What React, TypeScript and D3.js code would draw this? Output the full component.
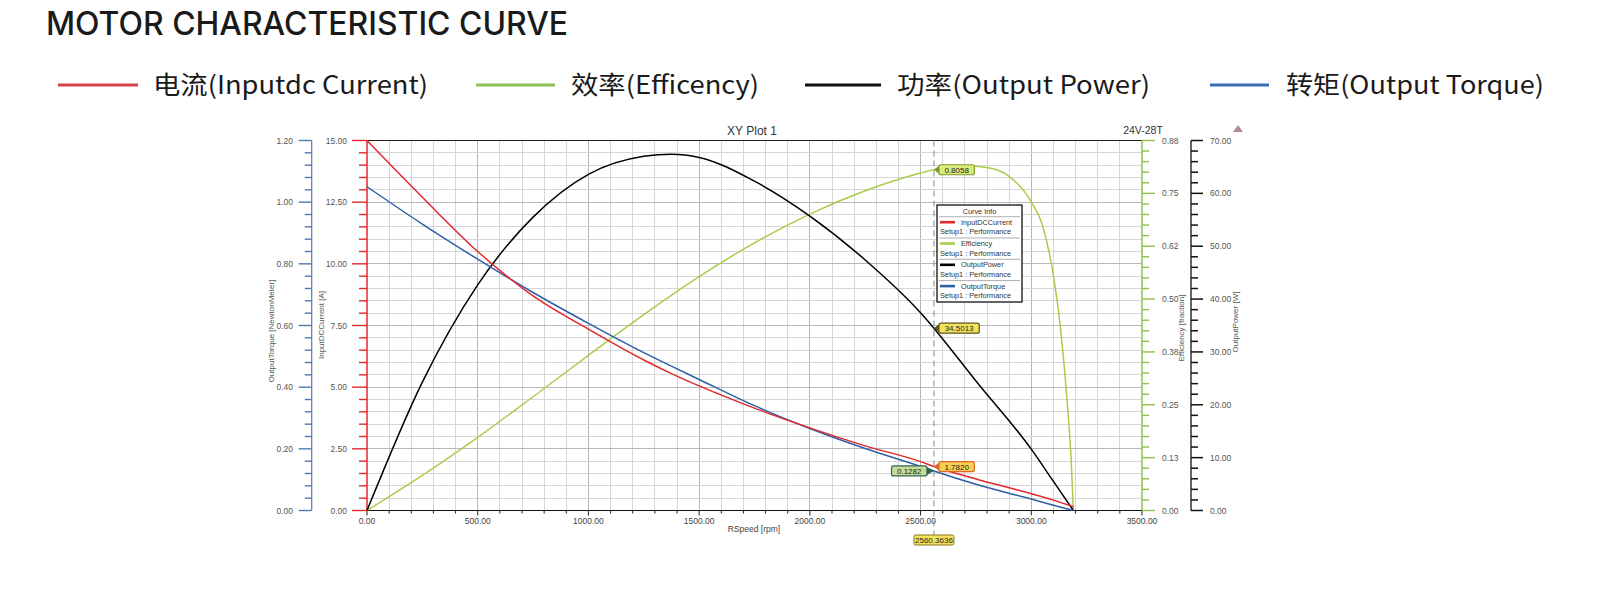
import * as d3 from "d3";

// motor curve, rpm on x
const SPEED = [0, 250, 500, 750, 1000, 1250, 1375, 1500, 1750, 2000, 2250, 2500, 2560, 2750, 3000, 3100, 3190];
const CURRENT = [15.0, 12.7, 10.5, 8.7, 7.35, 6.1, 5.55, 5.05, 4.15, 3.35, 2.62, 1.98, 1.782, 1.28, 0.68, 0.42, 0.15];
const TORQUE = [1.05, 0.929, 0.815, 0.707, 0.607, 0.512, 0.468, 0.425, 0.34, 0.266, 0.201, 0.143, 0.1282, 0.085, 0.037, 0.017, 0];
const POWER = [0, 24.3, 42.7, 55.5, 63.6, 67.0, 67.4, 66.8, 62.3, 55.7, 47.4, 37.4, 34.5, 24.5, 11.6, 5.5, 0];
const EFF_SPEED = [0, 250, 500, 750, 1000, 1250, 1500, 1750, 2000, 2250, 2500, 2560, 2700, 2800, 2900, 3000, 3050, 3100, 3130, 3160, 3180, 3190];
const EFFICIENCY = [0, 0.083, 0.173, 0.269, 0.367, 0.463, 0.553, 0.633, 0.701, 0.756, 0.798, 0.8058, 0.815, 0.811, 0.79, 0.73, 0.675, 0.555, 0.44, 0.27, 0.12, 0];

const EFF_TICK_LABELS = ["0.00", "0.13", "0.25", "0.38", "0.50", "0.62", "0.75", "0.88"];
const LEGEND_LABELS = ["电流(Inputdc Current)", "效率(Efficency)", "功率(Output Power)", "转矩(Output Torque)"];
const CURVE_NAMES = ["InputDCCurrent", "Efficiency", "OutputPower", "OutputTorque"];

const MARK_SPEED = 2560.3636;
const MARK_TEXT = ["1.7820", "0.8058", "34.5013", "0.1282", "2560.3636"];

const RED = "#e0282e";
const GREEN = "#a9cd4a";
const BLACK = "#000";
const BLUE = "#2f5fa6";
const SMALL = "'Liberation Sans', Arial, sans-serif";
const CJK = "'Noto Sans CJK SC', 'Noto Sans', sans-serif";

function Tag({ px, py, text, left, fill, stroke, color = "#222" }: any) {
  const w = text.length * 4.9 + 6;
  const h = 10;
  const bx = left ? px - 7 - w : px + 5;
  const tip = left
    ? `M${px},${py} L${px - 7},${py - 4} L${px - 7},${py + 4} Z`
    : `M${px},${py} L${px + 5},${py - 4} L${px + 5},${py + 4} Z`;
  return (
    <g>
      <path d={tip} fill={stroke} />
      <rect x={bx} y={py - h / 2} width={w} height={h} rx={2} fill={fill} stroke={stroke} strokeWidth={1.2} />
      <text x={bx + w / 2} y={py + 3} textAnchor="middle" fontSize={8} fontFamily={SMALL} fill={color}>
        {text}
      </text>
    </g>
  );
}

export default function App() {
  const L = 367, R = 1142, T = 140.5, B = 510.5;
  const x = d3.scaleLinear().domain([0, 3500]).range([L, R]);
  const yCur = d3.scaleLinear().domain([0, 15]).range([B, T]);
  const yTor = d3.scaleLinear().domain([0, 1.2]).range([B, T]);
  const yEff = d3.scaleLinear().domain([0, 0.875]).range([B, T]);
  const yPow = d3.scaleLinear().domain([0, 70]).range([B, T]);

  const path = (vals: number[], sc: d3.ScaleLinear<number, number>, xs = SPEED) =>
    d3
      .line<number>()
      .x((_, i) => x(xs[i]))
      .y((d) => sc(d))
      .curve(d3.curveMonotoneX)(vals) ?? "";

  const fmt = d3.format(".2f");
  const mx = x(MARK_SPEED);

  const legendX = [
    [58, 138, 153, 275],
    [476, 555, 571, 188],
    [805, 881, 897, 253],
    [1210, 1269, 1286, 258],
  ];
  const legendColors = ["#d4424a", "#8fc256", "#111", "#3c6db5"];
  const curveColors = [RED, GREEN, BLACK, BLUE];

  return (
    <svg
      width={1598}
      height={590}
      style={{ position: "absolute", left: 0, top: 0, background: "#fff" }}
    >
      <text x={46} y={35} fontSize={32} fontWeight={500} fontFamily="Inter, 'Noto Sans', sans-serif" fill="#1a1a1a" textLength={522} lengthAdjust="spacingAndGlyphs">
        MOTOR CHARACTERISTIC CURVE
      </text>

      {LEGEND_LABELS.map((lab, i) => {
        const [a, b, tx, tw] = legendX[i];
        return (
          <g key={lab}>
            <line x1={a} x2={b} y1={85} y2={85} stroke={legendColors[i]} strokeWidth={3} />
            <text x={tx} y={94} fontSize={25} fontFamily={CJK} fill="#1a1a1a" textLength={tw} lengthAdjust="spacingAndGlyphs">
              {lab}
            </text>
          </g>
        );
      })}

      {/* grid */}
      <g shapeRendering="crispEdges">
        {d3.range(1, 35).map((i) => (
          <line key={"v" + i} x1={x(i * 100)} x2={x(i * 100)} y1={T} y2={B} stroke={i % 5 === 0 ? "#b8b8b8" : "#d6d6d6"} />
        ))}
        {d3.range(1, 30).map((i) => (
          <line key={"h" + i} x1={L} x2={R} y1={yCur(i * 0.5)} y2={yCur(i * 0.5)} stroke={i % 5 === 0 ? "#b8b8b8" : "#d6d6d6"} />
        ))}
        <line x1={L} x2={R} y1={T} y2={T} stroke="#222" strokeWidth={1.5} />
        <line x1={L} x2={R} y1={B} y2={B} stroke="#111" strokeWidth={1.5} />
      </g>

      <text x={752} y={135} textAnchor="middle" fontSize={12} fontFamily={SMALL} fill="#333">XY Plot 1</text>
      <text x={1143} y={134} textAnchor="middle" fontSize={10.5} fontFamily={SMALL} fill="#333">24V-28T</text>
      <path d="M1238,125 L1243,132 L1233,132 Z" fill="#b48a92" />

      {/* x axis */}
      <g fontFamily={SMALL} fontSize={8.5} fill="#444">
        {d3.range(0, 36).map((i) => (
          <line key={"xt" + i} x1={x(i * 100)} x2={x(i * 100)} y1={B} y2={B + (i % 5 === 0 ? 5 : 3)} stroke="#222" />
        ))}
        {d3.range(0, 8).map((i) => (
          <text key={"xl" + i} x={x(i * 500)} y={524} textAnchor="middle">{fmt(i * 500)}</text>
        ))}
        <text x={754} y={532} textAnchor="middle">RSpeed [rpm]</text>
      </g>

      {/* torque axis (far left) */}
      <g fontFamily={SMALL} fontSize={8.5} fill="#555">
        <line x1={311.7} x2={311.7} y1={T} y2={B} stroke="#5179ad" strokeWidth={1.2} />
        {d3.range(0, 31).map((i) => (
          <line key={"tt" + i} x1={311.7 - (i % 5 === 0 ? 13 : 7)} x2={311.7} y1={yTor(i * 0.04)} y2={yTor(i * 0.04)} stroke="#5179ad" strokeWidth={1.4} />
        ))}
        {d3.range(0, 7).map((i) => (
          <text key={"tl" + i} x={293} y={yTor(i * 0.2) + 3} textAnchor="end">{fmt(i * 0.2)}</text>
        ))}
        <text transform="translate(274,331) rotate(-90)" textAnchor="middle" fontSize={8}>OutputTorque [NewtonMeter]</text>
      </g>

      {/* current axis */}
      <g fontFamily={SMALL} fontSize={8.5} fill="#555">
        {d3.range(0, 31).map((i) => (
          <line key={"ct" + i} x1={L - (i % 5 === 0 ? 15 : 8)} x2={L} y1={yCur(i * 0.5)} y2={yCur(i * 0.5)} stroke={RED} strokeWidth={1.4} />
        ))}
        <line x1={L} x2={L} y1={T} y2={B} stroke={RED} strokeWidth={1.5} />
        {d3.range(0, 7).map((i) => (
          <text key={"cl" + i} x={347} y={yCur(i * 2.5) + 3} textAnchor="end">{fmt(i * 2.5)}</text>
        ))}
        <text transform="translate(324,325) rotate(-90)" textAnchor="middle" fontSize={8}>InputDCCurrent [A]</text>
      </g>

      {/* efficiency axis */}
      <g fontFamily={SMALL} fontSize={8.5} fill="#555">
        {d3.range(0, 36).map((i) => (
          <line key={"et" + i} x1={R} x2={R + (i % 5 === 0 ? 13 : 7)} y1={yEff(i * 0.025)} y2={yEff(i * 0.025)} stroke="#8fbf4e" strokeWidth={1.4} />
        ))}
        <line x1={R} x2={R} y1={T} y2={B} stroke="#8fbf4e" strokeWidth={1.5} />
        {EFF_TICK_LABELS.map((lab, i) => (
          <text key={"el" + i} x={1162} y={yEff(i * 0.125) + 3}>{lab}</text>
        ))}
        <text transform="translate(1184,328) rotate(-90)" textAnchor="middle" fontSize={8}>Efficiency [fraction]</text>
      </g>

      {/* power axis */}
      <g fontFamily={SMALL} fontSize={8.5} fill="#555">
        <line x1={1191} x2={1191} y1={T} y2={B} stroke="#111" strokeWidth={1.3} />
        {d3.range(0, 36).map((i) => (
          <line key={"pt" + i} x1={1191} x2={1191 + (i % 5 === 0 ? 12 : 7)} y1={yPow(i * 2)} y2={yPow(i * 2)} stroke="#111" strokeWidth={1.5} />
        ))}
        {d3.range(0, 8).map((i) => (
          <text key={"pl" + i} x={1210} y={yPow(i * 10) + 3}>{fmt(i * 10)}</text>
        ))}
        <text transform="translate(1238,322) rotate(-90)" textAnchor="middle" fontSize={8}>OutputPower [W]</text>
      </g>

      {/* curves */}
      <g fill="none" strokeWidth={1.5}>
        <path d={path(EFFICIENCY, yEff, EFF_SPEED)} stroke={GREEN} />
        <path d={path(POWER, yPow)} stroke={BLACK} />
        <path d={path(TORQUE, yTor)} stroke={BLUE} />
        <path d={path(CURRENT, yCur)} stroke={RED} />
      </g>

      {/* marker */}
      <line x1={mx} x2={mx} y1={T} y2={536} stroke="#888" strokeDasharray="6,4" />

      {/* curve info */}
      <g fontFamily={SMALL} fontSize={7.3} fill="#333">
        <rect x={937} y={205} width={85} height={97} fill="#fff" stroke="#111" strokeWidth={1.3} />
        <text x={979.5} y={214} textAnchor="middle">Curve Info</text>
        {CURVE_NAMES.map((name, i) => {
          const top = 216.7 + i * 21.3;
          return (
            <g key={name}>
              <line x1={939} x2={1020} y1={top} y2={top} stroke="#999" strokeWidth={0.8} />
              <line x1={940} x2={955} y1={top + 5.5} y2={top + 5.5} stroke={curveColors[i]} strokeWidth={2.6} />
              <text x={961} y={top + 8}>{name}</text>
              <text x={940} y={top + 17.5}>Setup1 : Performance</text>
            </g>
          );
        })}
      </g>

      <Tag px={mx} py={yEff(0.8058)} text={MARK_TEXT[1]} fill="#dcec7c" stroke="#7d9b2a" />
      <Tag px={mx} py={yPow(34.5013)} text={MARK_TEXT[2]} fill="#f3e25c" stroke="#5d5418" />
      <Tag px={mx} py={yCur(1.782)} text={MARK_TEXT[0]} fill="#f6cf4f" stroke="#dc6428" />
      <Tag px={mx} py={yTor(0.1282)} text={MARK_TEXT[3]} left fill="#c4dc96" stroke="#2e6655" />
      <g>
        <rect x={mx - 20} y={535} width={40} height={10} rx={1.5} fill="#f3e25c" stroke="#8a7a20" strokeWidth={1} />
        <text x={mx} y={543} textAnchor="middle" fontSize={8} fontFamily={SMALL} fill="#222">{MARK_TEXT[4]}</text>
      </g>
    </svg>
  );
}
